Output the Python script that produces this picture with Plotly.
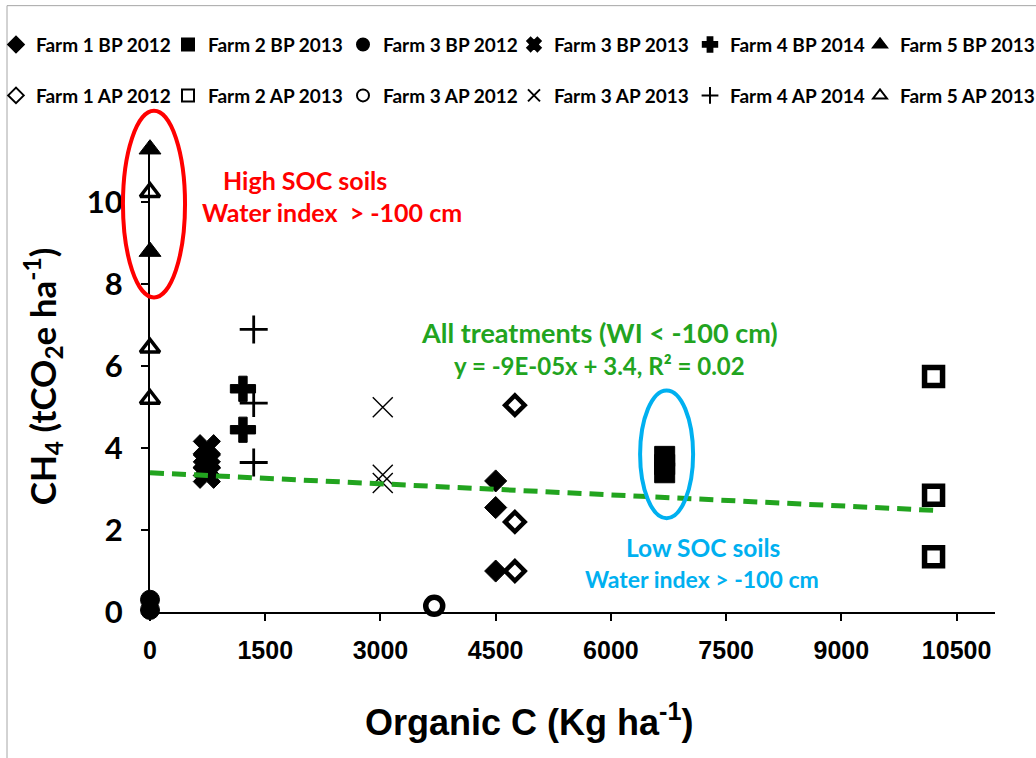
import plotly.graph_objects as go

# ---- data: organic C (kg/ha) vs CH4 (tCO2e/ha) ----
farm1_bp_2012_x = [4500, 4500, 4500]
farm1_bp_2012_y = [3.2, 2.55, 1.0]
farm2_bp_2013_x = [6700, 6700, 6700]
farm2_bp_2013_y = [3.8, 3.6, 3.4]
farm3_bp_2012_x = [0, 0]
farm3_bp_2012_y = [0.3, 0.05]
farm3_bp_2013_x = [740, 740, 740, 740]
farm3_bp_2013_y = [4.0, 3.7, 3.5, 3.35]
farm4_bp_2014_x = [1210, 1210]
farm4_bp_2014_y = [5.45, 4.45]
farm5_bp_2013_x = [0, 0]
farm5_bp_2013_y = [11.3, 8.8]

farm1_ap_2012_x = [4750, 4750, 4750]
farm1_ap_2012_y = [5.05, 2.2, 1.0]
farm2_ap_2013_x = [10200, 10200, 10200]
farm2_ap_2013_y = [5.75, 2.85, 1.35]
farm3_ap_2012_x = [3700]
farm3_ap_2012_y = [0.15]
farm3_ap_2013_x = [3030, 3030, 3030]
farm3_ap_2013_y = [5.0, 3.35, 3.15]
farm4_ap_2014_x = [1350, 1350, 1350]
farm4_ap_2014_y = [6.9, 5.1, 3.65]
farm5_ap_2013_x = [0, 0, 0]
farm5_ap_2013_y = [10.25, 6.45, 5.2]

# linear trend (all treatments, WI < -100 cm)
trend_slope = -9e-05
trend_intercept = 3.4
trend_x = [0, 10200]

x_ticks = [0, 1500, 3000, 4500, 6000, 7500, 9000, 10500]
y_ticks = [0, 2, 4, 6, 8, 10]
X_RANGE = [0, 11000]
Y_RANGE = [0, 11.5]

# ---- page geometry ----
W, H = 1036, 758
M_L, M_R, M_T, M_B = 150, 41, 140.5, 146
PW = W - M_L - M_R
PH = H - M_T - M_B

FONT = "Lato, 'Open Sans', sans-serif"
NARROW = "'Liberation Sans Narrow', 'Liberation Sans', sans-serif"
GREEN = "#22A41F"
BLUE = "#00B0F0"
RED = "#FF0000"


def paper_x(v):
    return (v - X_RANGE[0]) / (X_RANGE[1] - X_RANGE[0])


def paper_y(v):
    return (v - Y_RANGE[0]) / (Y_RANGE[1] - Y_RANGE[0])


def page_x(px):
    return (px - M_L) / PW


def page_y(py):
    return (H - M_B - py) / PH


fig = go.Figure()

# legend columns (left edge of the label text, px) and rows (centre, px)
legend_cols = [34, 206, 381, 552, 728, 898]
legend_rows = [44, 95]

# "before" series: filled markers (legend row 1)
bp_series = [
    ("Farm 1 BP 2012", farm1_bp_2012_x, farm1_bp_2012_y, "diamond", 17, "black", 1),
    ("Farm 2 BP 2013", farm2_bp_2013_x, farm2_bp_2013_y, "square", 20, "black", 1),
    ("Farm 3 BP 2012", farm3_bp_2012_x, farm3_bp_2012_y, "circle", 19, "black", 1),
    ("Farm 3 BP 2013", farm3_bp_2013_x, farm3_bp_2013_y, "x", 24, "black", 1),
    ("Farm 4 BP 2014", farm4_bp_2014_x, farm4_bp_2014_y, "cross", 21, "black", 1),
    ("Farm 5 BP 2013", farm5_bp_2013_x, farm5_bp_2013_y, "triangle-up", 19, "black", 1),
]
# "after" series: open markers (legend row 2)
ap_series = [
    ("Farm 1 AP 2012", farm1_ap_2012_x, farm1_ap_2012_y, "diamond", 15, "white", 4.5),
    ("Farm 2 AP 2013", farm2_ap_2013_x, farm2_ap_2013_y, "square", 18, "white", 5.5),
    ("Farm 3 AP 2012", farm3_ap_2012_x, farm3_ap_2012_y, "circle", 17, "white", 5.5),
    ("Farm 3 AP 2013", farm3_ap_2013_x, farm3_ap_2013_y, "x-thin-open", 20, "black", 1.4),
    ("Farm 4 AP 2014", farm4_ap_2014_x, farm4_ap_2014_y, "cross-thin-open", 20, "black", 2.8),
    ("Farm 5 AP 2013", farm5_ap_2013_x, farm5_ap_2013_y, "triangle-up", 17, "white", 3.5),
]

legend_font = dict(family=FONT, size=19, color="black", weight="bold")
legend_layout = {}
n = 0
for row, series in enumerate((bp_series, ap_series)):
    for col, (name, xs, ys, symbol, size, fill, lw) in enumerate(series):
        n += 1
        lid = "legend" if n == 1 else f"legend{n}"
        fig.add_trace(go.Scatter(
            x=xs, y=ys, mode="markers", name=name, legend=lid,
            cliponaxis=False,
            marker=dict(symbol=symbol, size=size, color=fill,
                        line=dict(color="black", width=lw)),
        ))
        legend_layout[lid] = dict(
            x=page_x(legend_cols[col] - 38), y=page_y(legend_rows[row]),
            xanchor="left", yanchor="middle", orientation="h",
            font=legend_font, itemsizing="constant",
            bgcolor="rgba(0,0,0,0)", borderwidth=0, itemclick=False,
        )

fig.add_trace(go.Scatter(
    x=trend_x, y=[trend_slope * v + trend_intercept for v in trend_x],
    mode="lines", showlegend=False, hoverinfo="skip",
    line=dict(color=GREEN, width=5, dash="14px,8px"),
))

shapes = [
    # red ellipse around the high-SOC points
    dict(type="circle", xref="paper", yref="paper",
         x0=paper_x(-352), x1=paper_x(456), y0=paper_y(7.68), y1=paper_y(12.24),
         line=dict(color=RED, width=4)),
    # blue ellipse around Farm 2 BP 2013
    dict(type="circle", xref="paper", yref="paper",
         x0=paper_x(6380), x1=paper_x(7070), y0=paper_y(2.29), y1=paper_y(5.41),
         line=dict(color=BLUE, width=4)),
    # page frame
    dict(type="line", xref="paper", yref="paper", x0=page_x(7), x1=page_x(7),
         y0=page_y(5), y1=page_y(H + 5), line=dict(color="#A6A6A6", width=1)),
    dict(type="line", xref="paper", yref="paper", x0=page_x(7), x1=page_x(W + 5),
         y0=page_y(5), y1=page_y(5), line=dict(color="#A6A6A6", width=1)),
]

annotations = [
    dict(x=2018, y=10.54, text="High SOC soils", font=dict(color=RED, size=25)),
    dict(x=2370, y=9.76, text="Water index  &gt; -100 cm", font=dict(color=RED, size=25)),
    dict(x=5850, y=6.83, text="All treatments (WI &lt; -100 cm)", font=dict(color=GREEN, size=27)),
    dict(x=5850, y=6.03, text="y = -9E-05x + 3.4, R² = 0.02", font=dict(color=GREEN, size=24)),
    dict(x=7200, y=1.58, text="Low SOC soils", font=dict(color=BLUE, size=24.5)),
    dict(x=7190, y=0.8, text="Water index &gt; -100 cm", font=dict(color=BLUE, size=23)),
]
for a in annotations:
    a.update(xref="x", yref="y", showarrow=False, xanchor="center", yanchor="middle")
    a["font"]["family"] = FONT
    a["text"] = "<b>" + a["text"] + "</b>"

# x-axis title, set slightly left of the plot centre
annotations.append(dict(
    xref="paper", yref="paper", x=page_x(529), y=page_y(720),
    xanchor="center", yanchor="middle", showarrow=False,
    text="<b>Organic C (Kg ha<sup>-1</sup>)</b>",
    font=dict(family=NARROW, size=36, color="black"),
))

fig.update_layout(
    width=W, height=H,
    margin=dict(l=M_L, r=M_R, t=M_T, b=M_B, autoexpand=False),
    paper_bgcolor="white", plot_bgcolor="white",
    showlegend=True,
    shapes=shapes,
    annotations=annotations,
    xaxis=dict(
        range=X_RANGE, tickmode="array", tickvals=x_ticks,
        ticktext=[str(v) for v in x_ticks],
        showgrid=False, zeroline=False, showline=True, linecolor="black", linewidth=2,
        ticks="outside", ticklen=7, tickwidth=2, tickcolor="black",
        ticklabelstandoff=8,
        tickfont=dict(family=NARROW, size=25, color="black", weight="bold"),
    ),
    yaxis=dict(
        range=Y_RANGE, tickmode="array", tickvals=y_ticks,
        ticktext=[str(v) for v in y_ticks],
        showgrid=False, zeroline=False, showline=True, linecolor="black", linewidth=2,
        ticks="outside", ticklen=7, tickwidth=2, tickcolor="black",
        ticklabelstandoff=12,
        tickfont=dict(family=FONT, size=31, color="black", weight="bold"),
        title=dict(text="<b>CH<sub>4</sub> (tCO<sub>2</sub>e ha<sup>-1</sup>)</b>", standoff=20,
                   font=dict(family=FONT, size=35, color="black")),
    ),
    **legend_layout,
)

fig.write_html("out.html")
